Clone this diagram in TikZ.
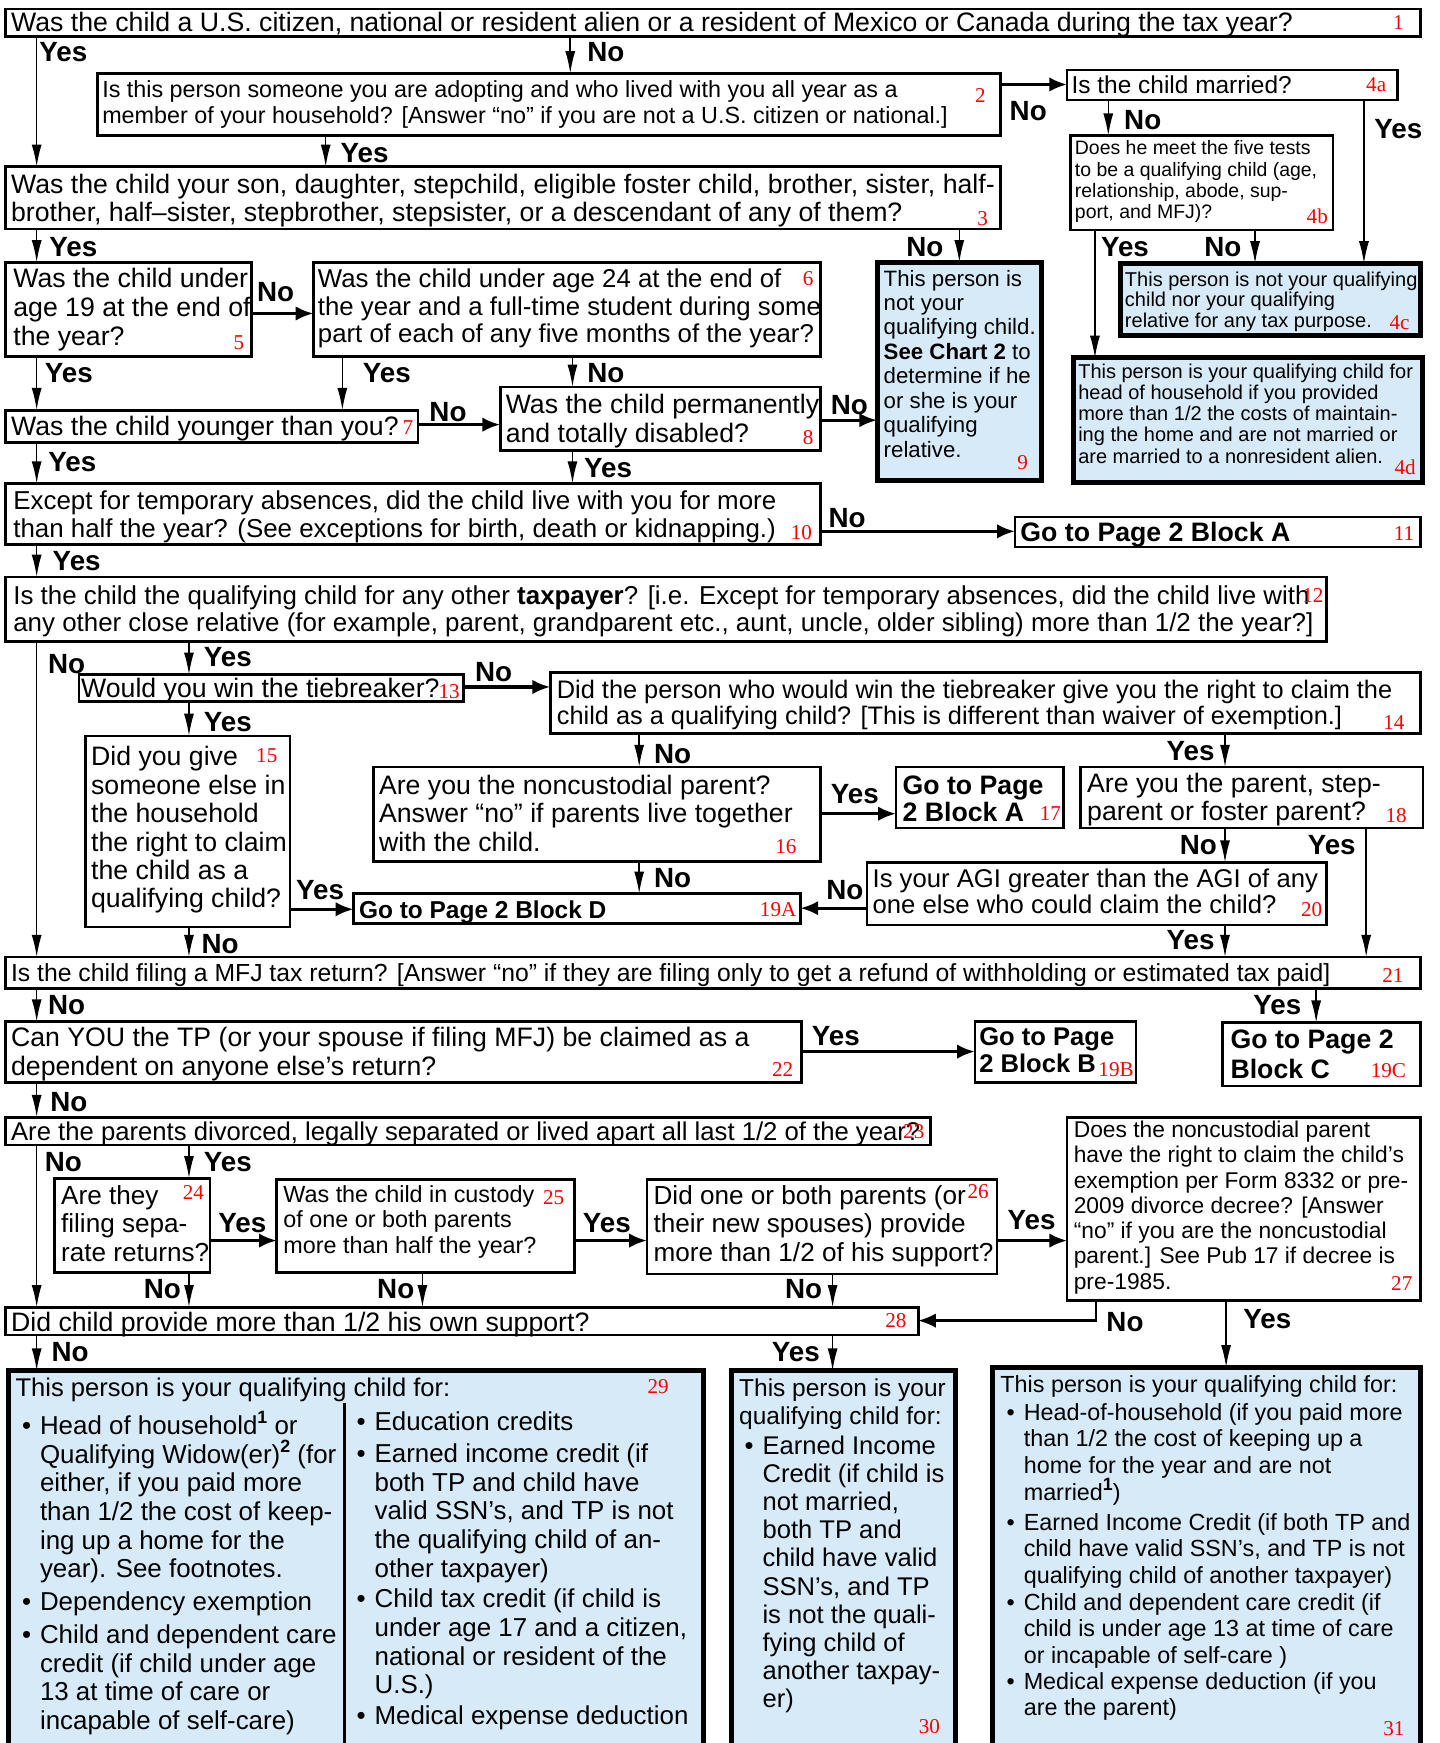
\documentclass[tikz,border=0pt]{standalone}
\usepackage{fontspec}
\setmainfont{Liberation Sans}
\newfontfamily\numfont{Liberation Serif}
\usetikzlibrary{arrows.meta,fit,calc}
\definecolor{qblue}{RGB}{214,234,248}
\newcommand\sups[1]{\smash{\raisebox{0.42em}{\fontsize{16}{16}\selectfont\bfseries #1}}}
\newcommand\bulit{\llap{\textbullet\hspace{8pt}}}
\newcommand\mkbox[4][bx]{\node[#1, fit={(#3) (#4)}] (#2) {};}
\newcommand\mktext[5]{\node[txt, font=\fontsize{#3}{#4}\selectfont] (#1) at ($(#2)+(0,{-0.36*#3})$) {#5};}
\newcommand\mklab[3]{\node[lab] (#1) at (#2) {#3};}
\newcommand\mknum[3]{\node[num] (#1) at (#2) {#3};}
\tikzset{
 bx/.style={draw, line width=2.4pt, inner sep=0pt, outer sep=0pt},
 bbx/.style={bx, fill=qblue, line width=4.5pt},
 txt/.style={anchor=north west, inner sep=0pt, outer sep=0pt, align=left},
 num/.style={text=red, font=\numfont\fontsize{19}{19}\selectfont, inner sep=0pt},
 lab/.style={font=\bfseries\fontsize{25}{25}\selectfont, inner sep=0pt},
 va/.style={line width=1.4pt, -{Latex[length=20pt,width=9pt]}},
 ha/.style={line width=2.8pt, -{Latex[length=16pt,width=13pt]}},
}
\begin{document}
\begin{tikzpicture}[x=1pt,y=-1pt]
\fill[white] (0,0) rectangle (1295,1568);
\useasboundingbox (0,0) rectangle (1295,1568);
\clip (0,0) rectangle (1295,1568);
% x and y guide coordinates
\foreach \v in {33,170,293,308,380,513,515,575,749,863,985,986,997,1102,1103,1129,1184,1227,1229}{\coordinate (X\v) at (\v,0);}
\foreach \v in {76,282,378,382,478,618,732,817,818,946,1116,1188}{\coordinate (Y\v) at (0,\v);}
% boxes
\mkbox{b1}{5,8}{1278,33}
\mkbox{b2}{88,66}{900,122}
\mkbox{b3}{5,150}{900,206}
\mkbox{b4a}{960,63}{1257,90}
\mkbox{b4b}{963,122}{1199,207}
\mkbox[bbx]{b4c}{1008,237}{1278,302}
\mkbox[bbx]{b4d}{966,322}{1280,434}
\mkbox[bbx]{b9}{789,236}{937,432}
\mkbox{b5}{5,236}{226,321}
\mkbox{b6}{282,236}{738,321}
\mkbox{b7}{5,369}{376,398}
\mkbox{b8}{450,348}{738,405}
\mkbox{b10}{5,435}{738,490}
\mkbox{b11}{913,465}{1278,492}
\mkbox{b12}{5,519}{1193,577}
\mkbox{b13}{71,607}{417,631}
\mkbox{b14}{495,605}{1278,660}
\mkbox{b15}{77,662}{261,834}
\mkbox{b16}{336,690}{738,775}
\mkbox{b17}{806,690}{957,745}
\mkbox{b18}{972,690}{1280,745}
\mkbox{b19A}{318,804}{720,831}
\mkbox{b20}{780,776}{1193,832}
\mkbox{b21}{5,861}{1278,889}
\mkbox{b22}{5,919}{721,974}
\mkbox{b19B}{877,919}{1022,974}
\mkbox{b19C}{1100,920}{1278,977}
\mkbox{b23}{5,1005}{837,1030}
\mkbox{b24}{49,1060}{189,1145}
\mkbox{b25}{249,1061}{517,1145}
\mkbox{b26}{582,1061}{897,1146}
\mkbox{b27}{960,1005}{1278,1170}
\mkbox{b28}{5,1176}{826,1201}
\mkbox[bbx]{b29}{8,1233}{633,1590}
\mkbox[bbx]{b30}{658,1233}{860,1590}
\mkbox[bbx]{b31}{893,1230}{1278,1590}
\draw[line width=2pt] (310,1262) -- (310,1590);
% texts
\mktext{t1}{10,20}{24}{26}{Was the child a U.S. citizen, national or resident alien or a resident of Mexico or Canada during the tax year?}
\mktext{t2}{92,80}{21}{23}{Is this person someone you are adopting and who lived with you all year as a\\member of your household? [Answer “no” if you are not a U.S. citizen or national.]}
\mktext{t3}{10,165}{24}{25.5}{Was the child your son, daughter, stepchild, eligible foster child, brother, sister, half-\\brother, half–sister, stepbrother, stepsister, or a descendant of any of them?}
\mktext{t4a}{964,76}{22}{24}{Is the child married?}
\mktext{t4b}{967,133}{17.5}{19}{Does he meet the five tests\\to be a qualifying child (age,\\relationship, abode, sup-\\port, and MFJ)?}
\mktext{t4c}{1012,251}{18}{18.5}{This person is not your qualifying\\child nor your qualifying\\relative for any tax purpose.}
\mktext{t4d}{970,334}{18}{19}{This person is your qualifying child for\\head of household if you provided\\more than 1/2 the costs of maintain-\\ing the home and are not married or\\are married to a nonresident alien.}
\mktext{t9}{795,250}{20}{22}{This person is\\not your\\qualifying child.\\\textbf{See Chart 2} to\\determine if he\\or she is your\\qualifying\\relative.}
\mktext{t5}{12,250}{24}{26}{Was the child under\\age 19 at the end of\\the year?}
\mktext{t6}{286,250}{23.2}{25}{Was the child under age 24 at the end of\\the year and a full-time student during some\\part of each of any five months of the year?}
\mktext{t7}{10,383}{24}{26}{Was the child younger than you?}
\mktext{t8}{455,363}{24}{26}{Was the child permanently\\and totally disabled?}
\mktext{t10}{12,450}{23.3}{25}{Except for temporary absences, did the child live with you for more\\than half the year? (See exceptions for birth, death or kidnapping.)}
\mktext{t11}{918,478}{24}{26}{\bfseries Go to Page 2 Block A}
\mktext{t12}{12,535}{23.3}{25}{Is the child the qualifying child for any other \textbf{taxpayer}? [i.e. Except for temporary absences, did the child live with\\any other close relative (for example, parent, grandparent etc., aunt, uncle, older sibling) more than 1/2 the year?]}
\mktext{t13}{73,619}{24}{26}{Would you win the tiebreaker?}
\mktext{t14}{501,620}{22.8}{23}{Did the person who would win the tiebreaker give you the right to claim the\\child as a qualifying child? [This is different than waiver of exemption.]}
\mktext{t15}{82,680}{24}{25.6}{Did you give\\someone else in\\the household\\the right to claim\\the child as a\\qualifying child?}
\mktext{t16}{341,706}{24}{25.5}{Are you the noncustodial parent?\\Answer “no” if parents live together\\with the child.}
\mktext{t17}{812,707}{24}{24}{\bfseries Go to Page\\\bfseries 2 Block A}
\mktext{t18}{978,704}{24}{25}{Are you the parent, step-\\parent or foster parent?}
\mktext{t19A}{323,818}{22}{24}{\bfseries Go to Page 2 Block D}
\mktext{t20}{785,790}{23.1}{23}{Is your AGI greater than the AGI of any\\one else who could claim the child?}
\mktext{t21}{10,875}{22.25}{24}{Is the child filing a MFJ tax return? [Answer “no” if they are filing only to get a refund of withholding or estimated tax paid]}
\mktext{t22}{10,933}{24}{25.5}{Can YOU the TP (or your spouse if filing MFJ) be claimed as a\\dependent on anyone else’s return?}
\mktext{t19B}{881,933}{23}{24}{\bfseries Go to Page\\\bfseries 2 Block B}
\mktext{t19C}{1107,935}{24}{27}{\bfseries Go to Page 2\\\bfseries Block C}
\mktext{t23}{10,1018}{23.1}{26}{Are the parents divorced, legally separated or lived apart all last 1/2 of the year?}
\mktext{t24}{55,1075}{23.5}{25.5}{Are they\\filing sepa-\\rate returns?}
\mktext{t25}{255,1074}{21}{23}{Was the child in custody\\of one or both parents\\more than half the year?}
\mktext{t26}{588,1075}{23.5}{25.5}{Did one or both parents (or\\their new spouses) provide\\more than 1/2 of his support?}
\mktext{t27}{966,1016}{20.5}{22.7}{Does the noncustodial parent\\have the right to claim the child’s\\exemption per Form 8332 or pre-\\2009 divorce decree? [Answer\\“no” if you are the noncustodial\\parent.] See Pub 17 if decree is\\pre-1985.}
\mktext{t28}{10,1189}{24}{26}{Did child provide more than 1/2 his own support?}
% box 29
\mktext{t29h}{14,1248}{23}{25}{This person is your qualifying child for:}
\mktext{t29a}{36,1282}{23.3}{25.8}{\bulit Head of household\sups{1} or\\Qualifying Widow(er)\sups{2} (for\\either, if you paid more\\than 1/2 the cost of keep-\\ing up a home for the\\year). See footnotes.}
\mktext{t29b}{36,1440}{23.3}{25.8}{\bulit Dependency exemption}
\mktext{t29c}{36,1470}{23.3}{25.8}{\bulit Child and dependent care\\credit (if child under age\\13 at time of care or\\incapable of self-care)}
\mktext{t29d}{337,1278}{23.3}{25.8}{\bulit Education credits}
\mktext{t29e}{337,1307}{23.3}{25.8}{\bulit Earned income credit (if\\both TP and child have\\valid SSN’s, and TP is not\\the qualifying child of an-\\other taxpayer)}
\mktext{t29f}{337,1438}{23.3}{25.8}{\bulit Child tax credit (if child is\\under age 17 and a citizen,\\national or resident of the\\U.S.)}
\mktext{t29g}{337,1543}{23.3}{25.8}{\bulit Medical expense deduction}
% box 30
\mktext{t30h}{665,1248}{22}{25}{This person is your\\qualifying child for:}
\mktext{t30a}{686,1300}{23}{25.3}{\bulit Earned Income\\Credit (if child is\\not married,\\both TP and\\child have valid\\SSN’s, and TP\\is not the quali-\\fying child of\\another taxpay-\\er)}
% box 31
\mktext{t31h}{900,1245}{21}{24}{This person is your qualifying child for:}
\mktext{t31a}{921,1270}{21}{24}{\bulit Head-of-household (if you paid more\\than 1/2 the cost of keeping up a\\home for the year and are not\\married\sups{1})}
\mktext{t31b}{921,1369}{21}{23.7}{\bulit Earned Income Credit (if both TP and\\child have valid SSN’s, and TP is not\\qualifying child of another taxpayer)}
\mktext{t31c}{921,1441}{21}{23.7}{\bulit Child and dependent care credit (if\\child is under age 13 at time of care\\or incapable of self-care )}
\mktext{t31d}{921,1512}{21}{24}{\bulit Medical expense deduction (if you\\are the parent)}
% red numbers
\mknum{n1}{1258,20}{1}
\mknum{n2}{882,86}{2}
\mknum{n3}{884,197}{3}
\mknum{n4a}{1238,76}{4a}
\mknum{n4b}{1185,195}{4b}
\mknum{n4c}{1259,290}{4c}
\mknum{n4d}{1264,420}{4d}
\mknum{n9}{920,416}{9}
\mknum{n5}{215,308}{5}
\mknum{n6}{727,251}{6}
\mknum{n7}{367,385}{7}
\mknum{n8}{727,394}{8}
\mknum{n10}{721,479}{10}
\mknum{n11}{1263,480}{11}
\mknum{n12}{1181,536}{12}
\mknum{n13}{404,622}{13}
\mknum{n14}{1254,650}{14}
\mknum{n15}{240,680}{15}
\mknum{n16}{707,762}{16}
\mknum{n17}{945,732}{17}
\mknum{n18}{1256,734}{18}
\mknum{n19A}{700,818}{19A}
\mknum{n20}{1180,818}{20}
\mknum{n21}{1253,878}{21}
\mknum{n22}{704,962}{22}
\mknum{n19B}{1004,962}{19B}
\mknum{n19C}{1249,963}{19C}
\mknum{n23}{822,1018}{23}
\mknum{n24}{174,1073}{24}
\mknum{n25}{498,1077}{25}
\mknum{n26}{880,1072}{26}
\mknum{n27}{1261,1155}{27}
\mknum{n28}{806,1188}{28}
\mknum{n29}{592,1247}{29}
\mknum{n30}{836,1553}{30}
\mknum{n31}{1254,1555}{31}
% labels
\mklab{l1}{57,47}{Yes}
\mklab{l2}{545,47}{No}
\mklab{l3}{925,100}{No}
\mklab{l4}{328,138}{Yes}
\mklab{l5}{66,222}{Yes}
\mklab{l6}{832,222}{No}
\mklab{l7}{1028,108}{No}
\mklab{l8}{1258,116}{Yes}
\mklab{l9}{1012,222}{Yes}
\mklab{l10}{1100,222}{No}
\mklab{l11}{248,263}{No}
\mklab{l12}{62,336}{Yes}
\mklab{l13}{348,336}{Yes}
\mklab{l14}{545,336}{No}
\mklab{l15}{403,371}{No}
\mklab{l16}{764,364}{No}
\mklab{l17}{65,416}{Yes}
\mklab{l18}{547,421}{Yes}
\mklab{l19}{762,466}{No}
\mklab{l20}{69,505}{Yes}
\mklab{l21}{60,597}{No}
\mklab{l22}{205,591}{Yes}
\mklab{l23}{444,605}{No}
\mklab{l24}{205,650}{Yes}
\mklab{l25}{605,678}{No}
\mklab{l26}{1071,676}{Yes}
\mklab{l27}{769,714}{Yes}
\mklab{l28}{1078,760}{No}
\mklab{l29}{1198,760}{Yes}
\mklab{l30}{605,790}{No}
\mklab{l31}{288,801}{Yes}
\mklab{l32}{760,801}{No}
\mklab{l33}{198,849}{No}
\mklab{l34}{1071,846}{Yes}
\mklab{l35}{60,904}{No}
\mklab{l36}{1149,904}{Yes}
\mklab{l37}{752,932}{Yes}
\mklab{l38}{62,991}{No}
\mklab{l39}{57,1045}{No}
\mklab{l40}{205,1045}{Yes}
\mklab{l41}{218,1100}{Yes}
\mklab{l42}{546,1100}{Yes}
\mklab{l43}{928,1098}{Yes}
\mklab{l44}{146,1160}{No}
\mklab{l45}{356,1160}{No}
\mklab{l46}{723,1160}{No}
\mklab{l47}{1012,1189}{No}
\mklab{l48}{1140,1187}{Yes}
\mklab{l49}{63,1216}{No}
\mklab{l50}{716,1216}{Yes}
% connectors
\draw[va] (b1.south -| X33) -- (b3.north -| X33);
\draw[va] (b1.south -| X513) -- (b2.north -| X513);
\draw[ha] (b2.east |- Y76) -- (b4a.west |- Y76);
\draw[va] (b2.south -| X293) -- (b3.north -| X293);
\draw[va] (b3.south -| X33) -- (b5.north -| X33);
\draw[va] (b3.south -| X863) -- (b9.north -| X863);
\draw[va] (b4a.south -| X997) -- (b4b.north -| X997);
\draw[va] (b4a.south -| X1227) -- (b4c.north -| X1227);
\draw[va] (b4b.south -| X985) -- (b4d.north -| X985);
\draw[va] (b4b.south -| X1129) -- (b4c.north -| X1129);
\draw[ha] (b5.east |- Y282) -- (b6.west |- Y282);
\draw[va] (b5.south -| X33) -- (b7.north -| X33);
\draw[va] (b6.south -| X308) -- (b7.north -| X308);
\draw[va] (b6.south -| X515) -- (b8.north -| X515);
\draw[ha] (b7.east |- Y382) -- (b8.west |- Y382);
\draw[ha] (b8.east |- Y378) -- (b9.west |- Y378);
\draw[va] (b7.south -| X33) -- (b10.north -| X33);
\draw[va] (b8.south -| X515) -- (b10.north -| X515);
\draw[ha] (b10.east |- Y478) -- (b11.west |- Y478);
\draw[va] (b10.south -| X33) -- (b12.north -| X33);
\draw[va] (b12.south -| X33) -- (b21.north -| X33);
\draw[va] (b12.south -| X170) -- (b13.north -| X170);
\draw[ha] (b13.east |- Y618) -- (b14.west |- Y618);
\draw[va] (b13.south -| X170) -- (b15.north -| X170);
\draw[va] (b14.south -| X575) -- (b16.north -| X575);
\draw[va] (b14.south -| X1102) -- (b18.north -| X1102);
\draw[ha] (b16.east |- Y732) -- (b17.west |- Y732);
\draw[va] (b16.south -| X575) -- (b19A.north -| X575);
\draw[ha] (b15.east |- Y818) -- (b19A.west |- Y818);
\draw[va] (b15.south -| X170) -- (b21.north -| X170);
\draw[va] (b18.south -| X1102) -- (b20.north -| X1102);
\draw[va] (b18.south -| X1229) -- (b21.north -| X1229);
\draw[ha] (b20.west |- Y817) -- (b19A.east |- Y817);
\draw[va] (b20.south -| X1102) -- (b21.north -| X1102);
\draw[va] (b21.south -| X33) -- (b22.north -| X33);
\draw[va] (b21.south -| X1184) -- (b19C.north -| X1184);
\draw[ha] (b22.east |- Y946) -- (b19B.west |- Y946);
\draw[va] (b22.south -| X33) -- (b23.north -| X33);
\draw[va] (b23.south -| X33) -- (b28.north -| X33);
\draw[va] (b23.south -| X170) -- (b24.north -| X170);
\draw[ha] (b24.east |- Y1116) -- (b25.west |- Y1116);
\draw[ha] (b25.east |- Y1116) -- (b26.west |- Y1116);
\draw[ha] (b26.east |- Y1116) -- (b27.west |- Y1116);
\draw[va] (b24.south -| X170) -- (b28.north -| X170);
\draw[va] (b25.south -| X380) -- (b28.north -| X380);
\draw[va] (b26.south -| X749) -- (b28.north -| X749);
\draw[ha, line width=2pt] (b27.south -| X986) |- (b28.east |- Y1188);
\draw[va] (b27.south -| X1103) -- (b31.north -| X1103);
\draw[va] (b28.south -| X33) -- (b29.north -| X33);
\draw[va] (b28.south -| X749) -- (b30.north -| X749);
\end{tikzpicture}
\end{document}
